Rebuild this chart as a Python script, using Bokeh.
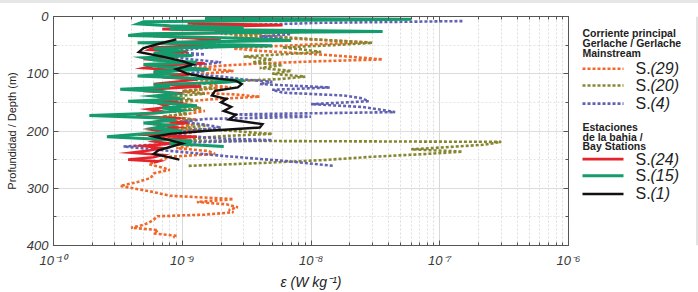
from bokeh.plotting import figure
from bokeh.models import Range1d, FixedTicker, LogAxis, LinearAxis, Div
from bokeh.layouts import row, column
from bokeh.embed import file_html
from bokeh.resources import INLINE
from bokeh.core.properties import value

# ---------------- data: (depth m, epsilon W/kg) ----------------
s29 = [(12,1.3e-9),(15,2.5e-9),(18,1.5e-9),(22,3e-9),(26,1.8e-9),(30,4e-9),(34,2.5e-9),(38,6e-9),
       (42,1.5e-8),(45,2.8e-8),(48,1.2e-8),(52,5e-9),(56,2.5e-9),(60,4e-9),(64,8e-9),(68,1.5e-8),
       (72,2.5e-8),(75,3.6e-8),(78,1.2e-8),(82,4e-9),(86,2e-9),(90,1.2e-9),(95,2.5e-9),(100,1.5e-9),
       (105,8e-10),(110,1.2e-9),(115,2e-9),(120,1.6e-9),(124,2.4e-9),(128,1.3e-9),(132,1.0e-9),
       (136,2.5e-9),(140,4e-9),(145,1.6e-9),(150,9e-10),(155,1.2e-9),(160,8e-10),(165,1.5e-9),
       (170,1.1e-9),(175,7e-10),(180,1.3e-9),(185,9e-10),(190,1.2e-9),(195,8e-10),(200,1.4e-9),
       (205,1.0e-9),(210,7e-10),(215,1.1e-9),(220,8e-10),(225,1.2e-9),(230,9e-10),(235,1.6e-9),
       (240,1.8e-9),(245,8e-10),(251,6.8e-10),(258,5.5e-10),(264,7e-10),(268,8e-10),(274,6e-10),
       (282,5.7e-10),(289,4.5e-10),(296,3.3e-10),(305,5.5e-10),(313,8e-10),(319,2.5e-9),(324,1.3e-9),
       (328,2.2e-9),(333,2.7e-9),(338,2.3e-9),(342,2.5e-9),(346,1.5e-9),(349,6.4e-10),(355,6e-10),
       (360,5.5e-10),(364,5e-10),(369,4e-10),(373,6.5e-10),(379,6e-10),(383,9e-10),(386,8.5e-10)]

s20 = [(14,1.2e-9),(18,2e-9),(22,1.5e-9),(26,3e-9),(30,2e-9),(34,5e-9),(38,8e-9),(42,1.5e-8),
       (46,3e-8),(50,1.5e-8),(54,6e-9),(58,9e-9),(62,1.2e-8),(66,6e-9),(70,3e-9),(75,5e-9),
       (80,3.5e-9),(85,6e-9),(90,4e-9),(95,7e-9),(100,5e-9),(105,9e-9),(109,6e-9),(113,2.5e-9),
       (117,1.5e-9),(121,1.0e-9),(125,1.8e-9),(130,1.0e-9),(135,1.5e-9),(140,8e-10),(145,1.2e-9),
       (150,7e-10),(155,1.0e-9),(160,1.4e-9),(165,8e-10),(170,1.1e-9),(175,7e-10),(180,1.2e-9),
       (185,8e-10),(190,1.6e-9),(195,1.0e-9),(200,2.5e-9),(205,5e-9),(209,2e-9),(213,1.3e-9),
       (217,1.1e-9),(219,3e-7),(224,2.2e-7),(229,1.0e-7),(232,6e-8),(236,1.5e-7),(240,8e-8),
       (245,3e-8),(251,1.2e-8),(256,4e-9),(261,1.1e-9)]

s4 = [(8,1.5e-7),(11,1.2e-8),(15,3e-9),(19,1.5e-9),(23,2.5e-9),(27,5e-9),(31,7e-9),(35,4e-9),
      (39,6e-9),(43,2.5e-9),(47,1.5e-9),(52,2e-9),(57,1.2e-9),(62,8e-10),(66,1.5e-9),(70,8e-10),
      (75,1.2e-9),(80,2e-9),(85,1.3e-9),(90,9e-10),(95,1.5e-9),(100,1.1e-9),(105,2e-9),(110,3e-9),
      (114,5e-9),(118,4e-9),(124,1.4e-8),(128,5e-9),(133,6e-9),(138,1.8e-8),(143,2.5e-8),
      (148,2.8e-8),(153,1.0e-8),(158,2.5e-8),(163,3.5e-8),(167,4.5e-8),(171,2.5e-9),(175,1.0e-8),
      (179,1.5e-9),(184,1.0e-9),(189,1.5e-9),(194,2e-9),(199,1.2e-9),(204,8e-10),(209,1.1e-9),
      (213,2e-9),(216,5e-9),(220,1.2e-9),(224,6e-10),(227,3.5e-10),(244,2.2e-9),(252,6e-9),
      (261,1.5e-8)]

s24 = [(12,1.1e-9),(15,6e-9),(18,1.5e-9),(22,7e-10),(27,8e-9),(30,9e-10),(34,6e-10),(38,1.2e-9),
       (42,2e-9),(46,8e-10),(50,1.5e-9),(54,6e-10),(58,5.5e-10),(62,1.1e-9),(66,6e-10),(70,9e-10),
       (74,5e-10),(78,8e-10),(82,1.5e-9),(86,6e-10),(90,5e-10),(94,9e-10),(98,6e-10),(102,1.1e-9),
       (106,7e-10),(110,1.3e-9),(114,9e-10),(118,6e-10),(122,1.4e-9),(126,7e-10),(130,5e-10),
       (134,1.0e-9),(138,7e-10),(142,8e-10),(146,6.5e-10),(150,9e-10),(154,7e-10),(158,8e-10),
       (162,5.5e-10),(166,7e-10),(170,4.8e-10),(174,4.5e-10),(178,9e-10),(182,7e-10),(186,1.1e-9),
       (190,7e-10),(194,9e-10),(198,6e-10),(202,8e-10),(206,4.5e-10),(210,1.3e-9),(214,7e-10),
       (218,6e-10),(222,8e-10),(226,5e-10),(230,7e-10),(234,5.5e-10),(238,4e-10),(242,7e-10),
       (246,6e-10),(250,3.8e-10),(253,6.5e-10),(255,6e-10)]

s15 = [(3,1.5e-9),(5,6e-8),(9,5e-10),(13,4.5e-10),(16,8e-10),(19,3e-9),(22,8e-10),(26,3.6e-8),
       (30,5e-10),(33,3.8e-10),(38,3e-9),(42,7e-9),(46,4.5e-10),(51,5e-9),(56,6e-10),(60,9e-10),
       (64,6e-10),(68,1.2e-9),(72,5e-10),(76,6e-10),(80,1.3e-9),(84,5e-10),(88,7e-10),(92,1.6e-9),
       (96,6e-10),(100,8e-10),(104,4.5e-10),(108,1.2e-9),(112,3e-9),(115,2.2e-9),(119,6e-10),
       (123,8e-10),(127,3.3e-10),(131,7e-10),(135,9e-10),(139,6e-10),(144,1.0e-9),(148,3.8e-10),
       (152,8e-10),(156,1.3e-9),(160,7e-10),(164,1.0e-9),(169,6e-10),(173,1.9e-10),(177,6e-10),
       (181,9e-10),(186,5e-10),(190,8e-10),(195,6e-10),(200,1.0e-9),(205,5e-10),(210,2.6e-10),
       (214,6e-10),(218,1.2e-9),(222,8e-10),(227,2.1e-9)]

s1 = [(40,9.0e-10),(48,6.5e-10),(55,5.0e-10),(62,4.6e-10),(70,7e-10),(78,1.0e-9),(84,1.2e-9),
      (92,9e-10),(100,1.1e-9),(106,1.5e-9),(112,2.6e-9),(118,2.9e-9),(124,2.7e-9),(130,1.8e-9),
      (138,1.7e-9),(144,2.2e-9),(150,2.0e-9),(158,2.4e-9),(165,2.1e-9),(172,2.6e-9),(180,2.3e-9),
      (188,4.2e-9),(194,4.0e-9),(200,1.5e-9),(205,8e-10),(210,6e-10),(216,8e-10),(222,1.0e-9),
      (228,8e-10),(234,6.5e-10),(240,6e-10),(246,8e-10),(250,9.5e-10)]

x_ticks = [1e-10, 1e-9, 1e-8, 1e-7, 1e-6]
x_tick_labels = ["10\u207b\u00b9\u2070", "10\u207b\u2079", "10\u207b\u2078", "10\u207b\u2077", "10\u207b\u2076"]
y_ticks = [0, 100, 200, 300, 400]
y_minor = [50, 150, 250, 350]

group1_title = ["Corriente principal", "Gerlache / Gerlache", "Mainstream"]
group2_title = ["Estaciones", "de la bahia /", "Bay Stations"]

# series: (name, data, color, dashed, width)
series = [
    ("(29)", s29, "#f0692a", True, 2.6),
    ("(20)", s20, "#868630", True, 2.6),
    ("(4)",  s4,  "#6262b2", True, 2.6),
    ("(24)", s24, "#e5232b", False, 2.6),
    ("(15)", s15, "#149c6c", False, 3.0),
    ("(1)",  s1,  "#111111", False, 2.4),
]
DASH = "3 2"
FONT = "Liberation Sans"
TOP_BAND = 3
H = 292 - TOP_BAND

# ---------------- main plot ----------------
p = figure(width=580, height=H, x_axis_type="log",
           x_range=Range1d(1e-10, 1e-6), y_range=Range1d(400, 0),
           output_backend="svg", toolbar_location=None,
           min_border_left=53, min_border_right=12, min_border_top=16 - TOP_BAND,
           min_border_bottom=43)
p.background_fill_color = "white"
p.border_fill_color = "white"
p.outline_line_color = "#555555"
p.outline_line_width = 1

minor_x = [m * 10.0 ** k for k in range(-10, -6) for m in range(2, 10)]
xt = FixedTicker(ticks=x_ticks, minor_ticks=minor_x)
yt = FixedTicker(ticks=y_ticks, minor_ticks=y_minor)

p.xaxis.ticker = xt
p.yaxis.ticker = yt
p.xaxis.major_label_overrides = dict(zip(x_ticks, x_tick_labels))

for ax in (p.xaxis[0], p.yaxis[0]):
    ax.axis_line_color = "#555555"
    ax.major_tick_line_color = "#555555"
    ax.minor_tick_line_color = "#555555"
    ax.major_tick_in = 5
    ax.major_tick_out = 0
    ax.minor_tick_in = 3
    ax.minor_tick_out = 0
    ax.major_label_text_font = FONT
    ax.major_label_text_font_style = "italic"
    ax.major_label_text_font_size = "13px"
    ax.major_label_text_color = "#383838"

p.yaxis.major_label_standoff = 5
p.xaxis.major_label_standoff = 7
p.yaxis.axis_label = "Profundidad / Depth (m)"
p.yaxis.axis_label_text_font = FONT
p.yaxis.axis_label_text_font_style = "normal"
p.yaxis.axis_label_text_font_size = "11px"
p.yaxis.axis_label_text_color = "#222222"
p.yaxis.axis_label_standoff = 6
p.xaxis.axis_label = "\u03b5 (W kg\u207b\u00b9)"
p.xaxis.axis_label_text_font = FONT
p.xaxis.axis_label_text_font_style = "italic"
p.xaxis.axis_label_text_font_size = "14px"
p.xaxis.axis_label_text_color = "#222222"
p.xaxis.axis_label_standoff = 3

# box ticks on top and right (labels blanked)
top_ax = LogAxis(ticker=xt, major_label_text_font_size="1px", major_label_text_color=None,
                 major_label_standoff=0,
                 axis_line_color="#555555", major_tick_line_color="#555555",
                 minor_tick_line_color="#555555",
                 major_tick_in=5, major_tick_out=0, minor_tick_in=3, minor_tick_out=0)
p.add_layout(top_ax, "above")
right_ax = LinearAxis(ticker=yt, major_label_text_font_size="1px", major_label_text_color=None,
                      major_label_standoff=0,
                      axis_line_color="#555555", major_tick_line_color="#555555",
                      minor_tick_line_color="#555555",
                      major_tick_in=5, major_tick_out=0, minor_tick_in=3, minor_tick_out=0)
p.add_layout(right_ax, "right")

p.xgrid.grid_line_color = "#d8d8d8"
p.xgrid.grid_line_width = 1
p.xgrid.minor_grid_line_color = "#dcdcdc"
p.xgrid.minor_grid_line_dash = "2 2"
p.ygrid.grid_line_color = "#dcdcdc"
p.ygrid.minor_grid_line_color = "#e4e4e4"
p.ygrid.minor_grid_line_dash = "2 2"

for name, data, color, dashed, w in series:
    d = [t[0] for t in data]
    e = [t[1] for t in data]
    if dashed:
        p.line(e, d, line_color=color, line_width=w, line_dash=DASH)
    else:
        p.line(e, d, line_color=color, line_width=w, line_join="miter")

# ---------------- legend panel ----------------
lg = figure(width=118, height=H, x_range=Range1d(0, 118), y_range=Range1d(292, TOP_BAND),
            output_backend="svg", toolbar_location=None, min_border=0,
            x_axis_location=None, y_axis_location=None)
lg.outline_line_color = None
lg.xgrid.visible = False
lg.ygrid.visible = False

def title_block(lines, y0):
    lg.text(x=[2] * len(lines), y=[y0 + 12.5 * i for i in range(len(lines))], text=lines,
            text_font=value(FONT), text_font_style="bold",
            text_font_size="10.5px", text_color="#222222", text_baseline="middle")

title_block(group1_title, 24)
title_block(group2_title, 142)

leg_y = [69, 90, 113, 183, 204, 227]
for (name, data, color, dashed, w), yy in zip(series, leg_y):
    if dashed:
        lg.line([2, 43], [yy, yy], line_color=color, line_width=w, line_dash=DASH)
    else:
        lg.line([2, 43], [yy, yy], line_color=color, line_width=w)
    lg.text(x=[55], y=[yy], text=["S."], text_font=value(FONT), text_font_size="16px",
            text_color="#222222", text_baseline="middle")
    lg.text(x=[70], y=[yy], text=[name], text_font=value(FONT), text_font_size="16px",
            text_font_style="italic", text_color="#222222", text_baseline="middle")

# light gray frame edge on the right of the picture
lg.line([116.5, 116.5], [TOP_BAND, 292], line_color="#e2e2e2", line_width=2)

band = Div(text="", width=698, height=TOP_BAND, margin=0,
           styles={"background-color": "#e6e6e6"})
layout = column(band, row(p, lg))
open("out.html", "w").write(file_html(layout, INLINE))
